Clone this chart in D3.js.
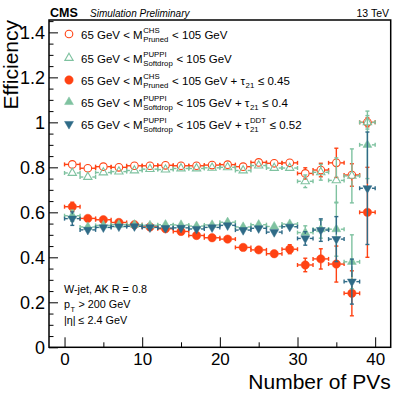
<!DOCTYPE html>
<html>
<head>
<meta charset="utf-8">
<script src="https://cdn.jsdelivr.net/npm/d3@7"></script>
<style>
  body { margin: 0; background: #fff; }
  text { font-family: "Liberation Sans", Arial, Helvetica, sans-serif; white-space: pre; }
</style>
</head>
<body>
<div id="chart"></div>
<script>
// bin centres (number of primary vertices), bins of width 2
const nPV = [1, 3, 5, 7, 9, 11, 13, 15, 17, 19, 21, 23, 25, 27, 29, 31, 33, 35, 37, 39];

// efficiencies
const effPrunedCHS = [0.813, 0.796, 0.803, 0.800, 0.807, 0.807, 0.809, 0.807, 0.807, 0.810,
  0.812, 0.803, 0.822, 0.818, 0.820, 0.773, 0.788, 0.820, 0.766, 1.0];
const errPrunedCHS = [0.012, 0.008, 0.006, 0.006, 0.006, 0.006, 0.006, 0.006, 0.006, 0.007,
  0.008, 0.009, 0.011, 0.013, 0.016, 0.025, 0.03, 0.065, 0.05, 0.02];

const effSoftdropPUPPI = [0.775, 0.757, 0.777, 0.781, 0.786, 0.792, 0.790, 0.795, 0.795, 0.798,
  0.800, 0.786, 0.808, 0.797, 0.797, 0.738, 0.778, 0.742, 0.762, 1.0];
const errSoftdropPUPPI = [0.012, 0.008, 0.006, 0.006, 0.006, 0.006, 0.006, 0.006, 0.006, 0.007,
  0.008, 0.009, 0.011, 0.013, 0.016, 0.028, 0.035, 0.1, 0.12, 0.03];

const effPrunedCHSTau = [0.625, 0.573, 0.567, 0.555, 0.545, 0.535, 0.527, 0.515, 0.497, 0.487,
  0.481, 0.444, 0.433, 0.416, 0.436, 0.366, 0.393, 0.370, 0.240, 0.600];
const errPrunedCHSTau = [0.02, 0.01, 0.008, 0.008, 0.008, 0.008, 0.008, 0.008, 0.008, 0.009,
  0.01, 0.011, 0.013, 0.015, 0.02, 0.03, 0.045, 0.08, 0.1, 0.2];

const effSoftdropPUPPITau = [0.585, 0.535, 0.542, 0.545, 0.545, 0.542, 0.545, 0.544, 0.539, 0.544,
  0.556, 0.535, 0.545, 0.537, 0.548, 0.510, 0.525, 0.525, 0.380, 0.900];
const errSoftdropPUPPITau = [0.025, 0.01, 0.008, 0.008, 0.008, 0.008, 0.008, 0.008, 0.008, 0.009,
  0.01, 0.011, 0.013, 0.015, 0.02, 0.03, 0.04, 0.12, 0.12, 0.15];

const effSoftdropPUPPIDDT = [0.572, 0.522, 0.533, 0.537, 0.538, 0.533, 0.530, 0.531, 0.526, 0.533,
  0.542, 0.521, 0.529, 0.512, 0.536, 0.484, 0.521, 0.481, 0.292, 0.707];
const errSoftdropPUPPIDDT = [0.03, 0.01, 0.008, 0.008, 0.008, 0.008, 0.008, 0.008, 0.008, 0.009,
  0.01, 0.011, 0.013, 0.015, 0.02, 0.03, 0.05, 0.1, 0.1, 0.25];

const yMajorTicks = [0, 0.2, 0.4, 0.6, 0.8, 1, 1.2, 1.4];
const xMajorTicks = [0, 10, 20, 30, 40];

const red = "#ff4213", green = "#7fc2a0", blue = "#2f6b87";

// series in draw order (same as legend)
const series = [
  { eff: effPrunedCHS, err: errPrunedCHS, color: red, shape: "circle", filled: false,
    label: [{ t: "65 GeV < M" }, { sup: "CHS", sub: "Pruned" }, { t: " < 105 GeV" }] },
  { eff: effSoftdropPUPPI, err: errSoftdropPUPPI, color: green, shape: "up", filled: false,
    label: [{ t: "65 GeV < M" }, { sup: "PUPPI", sub: "Softdrop" }, { t: " < 105 GeV" }] },
  { eff: effPrunedCHSTau, err: errPrunedCHSTau, color: red, shape: "circle", filled: true,
    label: [{ t: "65 GeV < M" }, { sup: "CHS", sub: "Pruned" }, { t: " < 105 GeV + τ" }, { sub: "21" }, { t: " ≤ 0.45" }] },
  { eff: effSoftdropPUPPITau, err: errSoftdropPUPPITau, color: green, shape: "up", filled: true,
    label: [{ t: "65 GeV < M" }, { sup: "PUPPI", sub: "Softdrop" }, { t: " < 105 GeV + τ" }, { sub: "21" }, { t: " ≤ 0.4" }] },
  { eff: effSoftdropPUPPIDDT, err: errSoftdropPUPPIDDT, color: blue, shape: "down", filled: true,
    label: [{ t: "65 GeV < M" }, { sup: "PUPPI", sub: "Softdrop" }, { t: " < 105 GeV + τ" }, { sup: "DDT", sub: "21" }, { t: " ≤ 0.52" }] }
];

const W = 407, H = 395;
const frame = { left: 49, right: 390.7, top: 20, bottom: 347.3 };

const svg = d3.select("#chart").append("svg")
  .attr("width", W).attr("height", H);

const x = d3.scaleLinear().domain([-2, 42]).range([frame.left, frame.right]);
const y = d3.scaleLinear().domain([0, 1.455]).range([frame.bottom, frame.top]);

// minor ticks
const yMinor = d3.range(0, 1.451, 0.05).filter(v => !yMajorTicks.some(m => Math.abs(m - v) < 1e-6));
const xMinor = [5, 15, 25, 35];

const axes = svg.append("g");

const yAxisG = axes.append("g")
  .attr("transform", `translate(${frame.left},0)`)
  .call(d3.axisLeft(y).tickValues(yMajorTicks).tickSizeInner(-9).tickSizeOuter(0)
    .tickPadding(4).tickFormat(d3.format("~g")));
axes.append("g")
  .attr("transform", `translate(${frame.left},0)`)
  .call(d3.axisLeft(y).tickValues(yMinor).tickSizeInner(-4.5).tickSizeOuter(0).tickFormat(""));

const xAxisG = axes.append("g")
  .attr("transform", `translate(0,${frame.bottom})`)
  .call(d3.axisBottom(x).tickValues(xMajorTicks).tickSizeInner(-10).tickSizeOuter(0)
    .tickPadding(6).tickFormat(d3.format("d")));
axes.append("g")
  .attr("transform", `translate(0,${frame.bottom})`)
  .call(d3.axisBottom(x).tickValues(xMinor).tickSizeInner(-5).tickSizeOuter(0).tickFormat(""));

axes.selectAll(".domain").remove();
axes.selectAll(".tick line").attr("stroke", "#000").attr("stroke-width", 1);
axes.selectAll(".tick text")
  .attr("fill", "#000")
  .attr("font-family", "Liberation Sans, Arial, sans-serif");
yAxisG.selectAll(".tick text").attr("font-size", 18);
xAxisG.selectAll(".tick text").attr("font-size", 17);

// frame
svg.append("rect")
  .attr("x", frame.left).attr("y", frame.top)
  .attr("width", frame.right - frame.left).attr("height", frame.bottom - frame.top)
  .attr("fill", "none").attr("stroke", "#000").attr("stroke-width", 1.5);

// axis titles
svg.append("text")
  .attr("transform", `translate(18,${frame.top}) rotate(-90)`)
  .attr("text-anchor", "end").attr("font-size", 21).text("Efficiency");
svg.append("text")
  .attr("x", frame.right).attr("y", 389)
  .attr("text-anchor", "end").attr("font-size", 21).text("Number of PVs");

// header
svg.append("text").attr("x", 50).attr("y", 16.5)
  .attr("font-size", 12.5).attr("font-weight", "bold").text("CMS");
svg.append("text").attr("x", 90).attr("y", 16.5)
  .attr("font-size", 10).attr("font-style", "italic").text("Simulation Preliminary");
svg.append("text").attr("x", 389).attr("y", 16.5)
  .attr("font-size", 10.5).attr("text-anchor", "end").text("13 TeV");

// markers
function markerPath(shape, size) {
  if (shape === "circle") return null;
  return d3.symbol().type(d3.symbolTriangle).size(size)();
}

function drawMarkers(g, coords, s) {
  if (s.shape === "circle") {
    g.selectAll(null).data(coords).enter().append("circle")
      .attr("cx", d => d[0]).attr("cy", d => d[1])
      .attr("r", s.filled ? 4.2 : 3.8)
      .attr("fill", s.filled ? s.color : "none")
      .attr("stroke", s.color).attr("stroke-width", s.filled ? 0.5 : 1.1);
  } else {
    const rot = s.shape === "down" ? 180 : 0;
    g.selectAll(null).data(coords).enter().append("path")
      .attr("d", markerPath(s.shape, s.filled ? 34 : 30))
      .attr("transform", d => `translate(${d[0]},${d[1]}) rotate(${rot})`)
      .attr("fill", s.filled ? s.color : "none")
      .attr("stroke", s.color).attr("stroke-width", s.filled ? 0.5 : 1.1);
  }
}

const plot = svg.append("g");
const capHalf = 2;

series.forEach(s => {
  const g = plot.append("g");
  const pts = nPV.map((n, i) => ({ n: n, v: s.eff[i], e: s.err[i] }));
  const r = s.shape === "circle" ? 4 : 4.5; // gap around marker for the bars

  pts.forEach(p => {
    const cx = x(p.n), cy = y(p.v);
    const xl = x(p.n - 1), xr = x(p.n + 1);
    const yt = y(p.v + p.e), yb = y(p.v - p.e);
    const segs = [];
    if (cx - r > xl) segs.push([xl, cy, cx - r, cy], [xl, cy - capHalf, xl, cy + capHalf]);
    if (cx + r < xr) segs.push([cx + r, cy, xr, cy], [xr, cy - capHalf, xr, cy + capHalf]);
    if (cy - r > yt) segs.push([cx, yt, cx, cy - r], [cx - capHalf, yt, cx + capHalf, yt]);
    if (cy + r < yb) segs.push([cx, cy + r, cx, yb], [cx - capHalf, yb, cx + capHalf, yb]);
    g.selectAll(null).data(segs).enter().append("line")
      .attr("x1", d => d[0]).attr("y1", d => d[1])
      .attr("x2", d => d[2]).attr("y2", d => d[3])
      .attr("stroke", s.color).attr("stroke-width", 1.4);
  });

  drawMarkers(g, pts.map(p => [x(p.n), y(p.v)]), s);
});

// legend
const legendRows = [34, 58, 80, 102, 124];
const legend = svg.append("g");

function richText(g, x0, yb, parts, size) {
  let cx = x0;
  const small = size * 0.68;
  parts.forEach(p => {
    if (p.t !== undefined) {
      const t = g.append("text").attr("x", cx).attr("y", yb).attr("font-size", size).text(p.t);
      cx += t.node().getComputedTextLength();
    } else {
      let w = 0;
      if (p.sup) {
        const t = g.append("text").attr("x", cx + 0.5).attr("y", yb - 5.5).attr("font-size", small).text(p.sup);
        w = Math.max(w, t.node().getComputedTextLength());
      }
      if (p.sub) {
        const t = g.append("text").attr("x", cx + 0.5).attr("y", yb + 3.5).attr("font-size", small).text(p.sub);
        w = Math.max(w, t.node().getComputedTextLength());
      }
      cx += w + 1;
    }
  });
}

series.forEach((s, i) => {
  const cy = legendRows[i];
  drawMarkers(legend, [[69, cy]], s);
  richText(legend, 81, cy + 4.5, s.label, 11.5);
});

// annotation
const ann = svg.append("g").attr("font-size", 10.8);
ann.append("text").attr("x", 64).attr("y", 293).text("W-jet, AK R = 0.8");
richText(ann, 64, 308, [{ t: "p" }, { sub: "T" }, { t: " > 200 GeV" }], 10.8);
ann.append("text").attr("x", 64).attr("y", 324).text("|η| ≤ 2.4 GeV");
</script>
</body>
</html>
